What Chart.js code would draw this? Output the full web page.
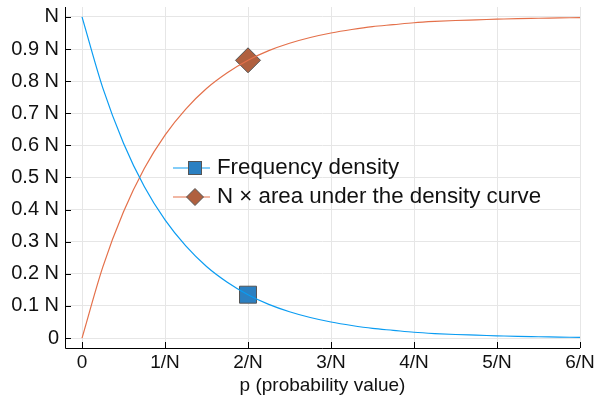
<!DOCTYPE html>
<html>
<head>
<meta charset="utf-8">
<script src="https://cdn.jsdelivr.net/npm/chart.js@4/dist/chart.umd.min.js"></script>
<style>
  html, body { margin: 0; padding: 0; background: #fff; }
  #wrap { width: 596px; height: 397px; }
</style>
</head>
<body>
<div id="wrap"><canvas id="chart" width="596" height="397"></canvas></div>
<script>
// values
const pValues = [0, 0.25, 0.5, 0.75, 1, 1.25, 1.5, 1.75, 2, 2.25, 2.5, 2.75, 3,
  3.25, 3.5, 3.75, 4, 4.25, 4.5, 4.75, 5, 5.25, 5.5, 5.75, 6];
const densityValues = [1.000, 0.779, 0.607, 0.472, 0.368, 0.287, 0.223, 0.174, 0.135,
  0.105, 0.082, 0.064, 0.050, 0.039, 0.030, 0.024, 0.018, 0.014, 0.011, 0.009,
  0.007, 0.005, 0.004, 0.003, 0.002];
const areaValues = [0, 0.221, 0.393, 0.528, 0.632, 0.713, 0.777, 0.826, 0.865,
  0.895, 0.918, 0.936, 0.950, 0.961, 0.970, 0.976, 0.982, 0.986, 0.989, 0.991,
  0.993, 0.995, 0.996, 0.997, 0.998];
const markerP = 2;
const markerDensity = 0.135;
const markerArea = 0.865;
const xTickValues = [0, 1, 2, 3, 4, 5, 6];
const xTickLabels = ['0', '1/N', '2/N', '3/N', '4/N', '5/N', '6/N'];
const yTickValues = [0, 0.1, 0.2, 0.3, 0.4, 0.5, 0.6, 0.7, 0.8, 0.9, 1];
const yTickLabels = ['0', '0.1 N', '0.2 N', '0.3 N', '0.4 N', '0.5 N', '0.6 N',
  '0.7 N', '0.8 N', '0.9 N', 'N'];
const seriesNames = ['Frequency density', 'N \u00d7 area under the density curve'];

const BLUE = '#0a9cf2';
const ORANGE = '#e4704a';
const SQUARE_FILL = '#2b80c2';
const DIAMOND_FILL = '#b0603f';
const FONT = '"Liberation Sans", Arial, sans-serif';

const toPoints = (xs, ys) => xs.map((x, i) => ({ x: x, y: ys[i] }));

function drawSquare(ctx, x, y, s) {
  ctx.fillStyle = SQUARE_FILL;
  ctx.strokeStyle = '#555';
  ctx.lineWidth = 1;
  ctx.fillRect(x - s / 2, y - s / 2, s, s);
  ctx.strokeRect(x - s / 2, y - s / 2, s, s);
}

function drawDiamond(ctx, x, y, r) {
  ctx.fillStyle = DIAMOND_FILL;
  ctx.strokeStyle = '#555';
  ctx.lineWidth = 1;
  ctx.beginPath();
  ctx.moveTo(x, y - r);
  ctx.lineTo(x + r, y);
  ctx.lineTo(x, y + r);
  ctx.lineTo(x - r, y);
  ctx.closePath();
  ctx.fill();
  ctx.stroke();
}

// no automatic padding for overflowing tick labels
function noScalePadding(scale) {
  scale.paddingTop = 0;
  scale.paddingBottom = 0;
  scale.paddingLeft = 0;
  scale.paddingRight = 0;
}

// axis lines, inward tick marks and legend
const framePlugin = {
  id: 'frame',
  beforeDatasetsDraw(chart) {
    const { ctx, chartArea, scales } = chart;
    ctx.save();
    ctx.strokeStyle = '#000';
    ctx.lineWidth = 1;
    ctx.beginPath();
    xTickValues.forEach(v => {
      const px = Math.round(scales.x.getPixelForValue(v)) + 0.5;
      ctx.moveTo(px, chartArea.bottom);
      ctx.lineTo(px, chartArea.bottom - 6);
    });
    yTickValues.forEach(v => {
      const py = Math.round(scales.y.getPixelForValue(v)) + 0.5;
      ctx.moveTo(chartArea.left, py);
      ctx.lineTo(chartArea.left + 6, py);
    });
    ctx.stroke();
    ctx.beginPath();
    ctx.moveTo(chartArea.left + 0.5, chartArea.top);
    ctx.lineTo(chartArea.left + 0.5, chartArea.bottom + 0.5);
    ctx.lineTo(chartArea.right, chartArea.bottom + 0.5);
    ctx.stroke();
    ctx.restore();
  },
  afterDraw(chart) {
    const ctx = chart.ctx;
    ctx.save();
    const rows = [168, 197];
    ctx.lineWidth = 1.2;
    ctx.strokeStyle = BLUE;
    ctx.beginPath();
    ctx.moveTo(173, rows[0]);
    ctx.lineTo(210, rows[0]);
    ctx.stroke();
    drawSquare(ctx, 195, rows[0], 13);
    ctx.lineWidth = 1.2;
    ctx.strokeStyle = ORANGE;
    ctx.beginPath();
    ctx.moveTo(173, rows[1]);
    ctx.lineTo(210, rows[1]);
    ctx.stroke();
    drawDiamond(ctx, 195, rows[1], 8.5);
    ctx.fillStyle = '#111';
    ctx.font = '22.3px ' + FONT;
    ctx.textBaseline = 'middle';
    ctx.textAlign = 'left';
    ctx.fillText(seriesNames[0], 217, rows[0]);
    ctx.fillText(seriesNames[1], 217, rows[1]);
    ctx.restore();
  }
};

const ctx = document.getElementById('chart');
new Chart(ctx, {
  type: 'scatter',
  data: {
    datasets: [
      {
        label: seriesNames[0],
        data: toPoints(pValues, densityValues),
        showLine: true,
        borderColor: BLUE,
        borderWidth: 1.2,
        pointRadius: 0,
        cubicInterpolationMode: 'monotone'
      },
      {
        label: seriesNames[1],
        data: toPoints(pValues, areaValues),
        showLine: true,
        borderColor: ORANGE,
        borderWidth: 1.2,
        pointRadius: 0,
        cubicInterpolationMode: 'monotone'
      },
      {
        label: 'density marker',
        data: [{ x: markerP, y: markerDensity }],
        pointStyle: 'rect',
        pointRadius: 12,
        backgroundColor: SQUARE_FILL,
        borderColor: '#555',
        borderWidth: 1
      },
      {
        label: 'area marker',
        data: [{ x: markerP, y: markerArea }],
        pointStyle: 'rectRot',
        pointRadius: 12.5,
        backgroundColor: DIAMOND_FILL,
        borderColor: '#555',
        borderWidth: 1
      }
    ]
  },
  options: {
    responsive: false,
    animation: false,
    layout: { autoPadding: false, padding: { top: 7, right: 16, left: 0, bottom: 0 } },
    plugins: {
      legend: { display: false },
      tooltip: { enabled: false }
    },
    scales: {
      x: {
        type: 'linear',
        min: -0.205,
        max: 6,
        afterBuildTicks: scale => {
          scale.ticks = xTickValues.map(v => ({ value: v }));
        },
        afterFit: scale => { scale.height = 49; noScalePadding(scale); },
        grid: { color: '#e6e6e6', drawTicks: false },
        border: { display: false },
        ticks: {
          padding: 3,
          color: '#111',
          font: { family: FONT, size: 19 },
          callback: v => xTickLabels[xTickValues.indexOf(v)]
        },
        title: {
          display: true,
          text: 'p (probability value)',
          color: '#111',
          font: { family: FONT, size: 19 },
          padding: { top: 0, bottom: 0 }
        }
      },
      y: {
        type: 'linear',
        min: -0.031,
        max: 1.031,
        afterBuildTicks: scale => {
          scale.ticks = yTickValues.map(v => ({ value: v }));
        },
        afterFit: scale => { scale.width = 65; noScalePadding(scale); },
        grid: { color: '#e6e6e6', drawTicks: false },
        border: { display: false },
        ticks: {
          padding: 6,
          color: '#111',
          font: { family: FONT, size: 20 },
          callback: v => {
            const i = yTickValues.findIndex(t => Math.abs(t - v) < 1e-9);
            return i >= 0 ? yTickLabels[i] : '';
          }
        }
      }
    }
  },
  plugins: [framePlugin]
});
</script>
</body>
</html>
